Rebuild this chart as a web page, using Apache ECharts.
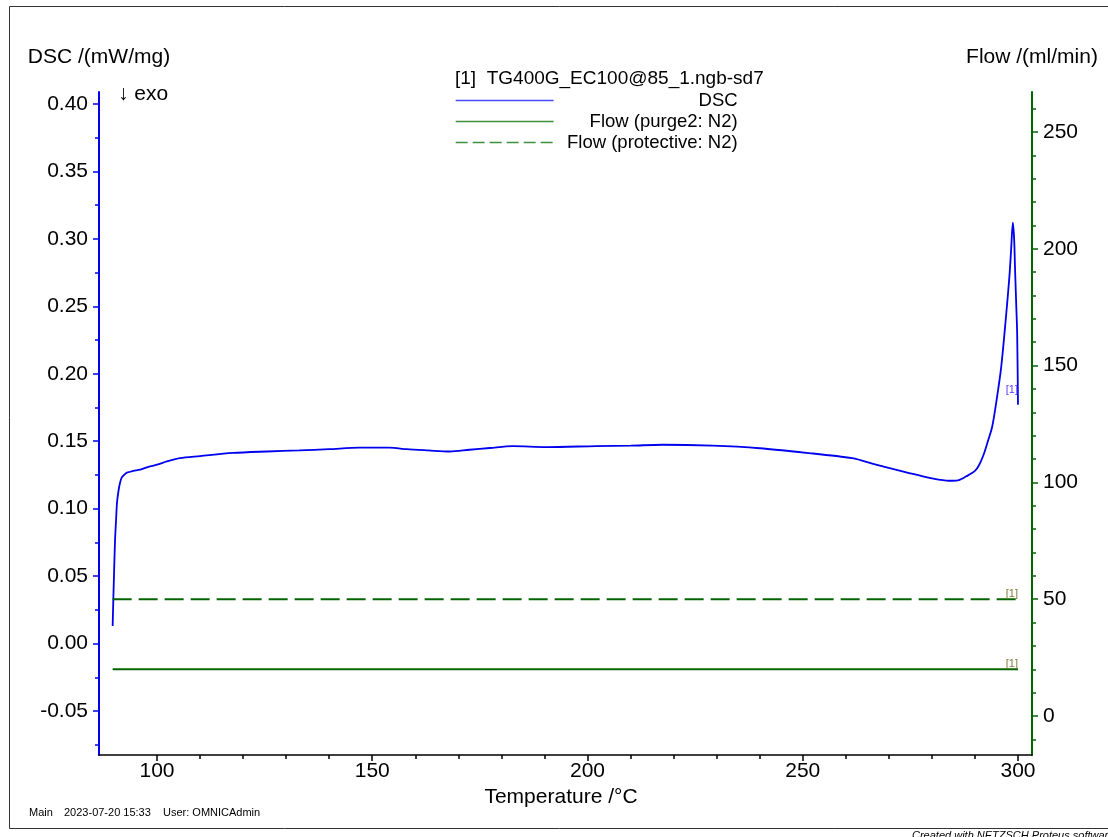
<!DOCTYPE html>
<html>
<head>
<meta charset="utf-8">
<style>
  html, body { margin: 0; padding: 0; background: #ffffff; }
  #chart { width: 1108px; height: 837px; }
</style>
<script src="https://cdn.jsdelivr.net/npm/echarts@6/dist/echarts.min.js"></script>
</head>
<body>
<div id="chart"></div>
<script>
// ---------- data ----------
const dscTemp = [89.7, 89.86, 90.05, 90.26, 90.5, 90.7, 91.0, 91.4, 91.8, 92.5, 93.0, 94.5, 96.1, 98, 100, 102.3, 105.3, 110,
  117.6, 125.5, 133, 140, 147, 154, 158, 163, 168, 172.6, 177.3, 182.6, 190.5, 202, 210, 217.4, 229, 240,
  251.5, 261.5, 264, 267, 274.7, 280, 284, 286, 288, 290, 291, 292, 293, 294, 295, 296.1, 297.2, 298, 298.4, 298.8,
  299.1, 299.3, 299.6, 299.8, 300.0];
const dscValue = [0.013, 0.033, 0.055, 0.077, 0.092, 0.104, 0.112, 0.119, 0.123, 0.1255, 0.1267, 0.128, 0.129, 0.131, 0.1326, 0.135, 0.1375, 0.139,
  0.1413, 0.1424, 0.1432, 0.1441, 0.1452, 0.1452, 0.1441, 0.1432, 0.1424, 0.1437, 0.145, 0.1464, 0.1457, 0.1464, 0.1467, 0.1474, 0.1467, 0.1448,
  0.1412, 0.1375, 0.1355, 0.1326, 0.1264, 0.1225, 0.1207, 0.121, 0.124, 0.128, 0.1326, 0.140, 0.150, 0.1607, 0.180, 0.2052, 0.242, 0.272, 0.292, 0.312,
  0.300, 0.279, 0.250, 0.2304, 0.177];
const flowTemp = [89.7, 300.0];
const flowPurge = [20, 20];
const flowProtective = [50, 50];

const tempTicks = [100, 150, 200, 250, 300];
const tempMinorTicks = [110, 120, 130, 140, 160, 170, 180, 190, 210, 220, 230, 240, 260, 270, 280, 290];
const dscTicks = [-0.05, 0.00, 0.05, 0.10, 0.15, 0.20, 0.25, 0.30, 0.35, 0.40];
const dscMinorTicks = [-0.075, -0.025, 0.025, 0.075, 0.125, 0.175, 0.225, 0.275, 0.325, 0.375];
const flowTicks = [0, 50, 100, 150, 200, 250];
const flowMinorTicks = [-10, 10, 20, 30, 40, 60, 70, 80, 90, 110, 120, 130, 140, 160, 170, 180, 190, 210, 220, 230, 240, 260];

const seriesNames = ['DSC', 'Flow (purge2: N2)', 'Flow (protective: N2)'];
const fileTitle = '[1]  TG400G_EC100@85_1.ngb-sd7';

// ---------- build ----------
const zip = (xs, ys) => xs.map((x, i) => [x, ys[i]]);
const dscData = zip(dscTemp, dscValue);
const purgeData = zip(flowTemp, flowPurge);
const protData = zip(flowTemp, flowProtective);

const FONT = '"Liberation Sans", Arial, sans-serif';
const BLUE = '#0000ee';
const GREEN = '#006400';

const xRange = { min: 86.53, max: 303.25 };
const dscRange = { min: -0.0826, max: 0.4089 };
const flowRange = { min: -16.7, max: 267.1 };

function endMark(data, color, dy) {
  return {
    symbol: 'circle', symbolSize: 0, silent: true, animation: false,
    data: [{ coord: data[data.length - 1] }],
    label: {
      show: true, formatter: '[1]', position: 'left', distance: 0,
      offset: [0, dy], color: color, fontSize: 11, fontFamily: FONT
    }
  };
}

const chart = echarts.init(document.getElementById('chart'), null, { renderer: 'canvas' });
chart.setOption({
  animation: false,
  backgroundColor: '#ffffff',
  title: {
    text: fileTitle, left: 455, top: 69, padding: 0,
    textStyle: { fontFamily: FONT, fontSize: 19, fontWeight: 'normal', color: '#000' }
  },
  legend: {
    orient: 'vertical', left: 455, top: 91, padding: 0,
    itemWidth: 98, itemHeight: 14, itemGap: 2,
    itemStyle: { opacity: 0 },
    formatter: n => '{a|' + n + '}',
    textStyle: {
      fontFamily: FONT, fontSize: 18.5, color: '#000',
      rich: { a: { width: 179, align: 'right', fontSize: 18.5, lineHeight: 18, fontFamily: FONT, color: '#000' } }
    },
    data: [
      { name: seriesNames[0], itemStyle: { opacity: 0 }, lineStyle: { color: '#4a4aff', width: 1.3 } },
      { name: seriesNames[1], itemStyle: { opacity: 0 }, lineStyle: { color: '#3f8f3f', width: 1.3 } },
      { name: seriesNames[2], itemStyle: { opacity: 0 }, lineStyle: { color: '#3f8f3f', width: 1.3, type: [12, 5] } }
    ]
  },
  grid: { left: 99, right: 76, top: 92, bottom: 82, containLabel: false },
  xAxis: [
    {
      type: 'value', position: 'bottom', min: xRange.min, max: xRange.max,
      name: 'Temperature /°C', nameLocation: 'middle', nameGap: 30,
      nameTextStyle: { fontFamily: FONT, fontSize: 21, color: '#000', padding: [0, 9, 0, 0] },
      axisLine: { show: true, onZero: false, lineStyle: { color: '#000', width: 1.5 } },
      axisTick: { show: true, inside: false, length: 6, customValues: tempTicks, lineStyle: { color: '#000', width: 1.5 } },
      axisLabel: { show: true, customValues: tempTicks, margin: 6, fontFamily: FONT, fontSize: 21, color: '#000' },
      splitLine: { show: false }
    },
    {
      type: 'value', position: 'bottom', min: xRange.min, max: xRange.max,
      axisLine: { show: false, onZero: false },
      axisTick: { show: true, inside: false, length: 4, customValues: tempMinorTicks, lineStyle: { color: '#000', width: 1.5 } },
      axisLabel: { show: false },
      splitLine: { show: false }
    }
  ],
  yAxis: [
    {
      type: 'value', position: 'left', min: dscRange.min, max: dscRange.max,
      name: 'DSC /(mW/mg)', nameLocation: 'end', nameGap: 24,
      nameTextStyle: { fontFamily: FONT, fontSize: 21, color: '#000', align: 'center' },
      axisLine: { show: true, onZero: false, lineStyle: { color: BLUE, width: 2 } },
      axisTick: { show: true, inside: false, length: 6, customValues: dscTicks, lineStyle: { color: BLUE, width: 1.5 } },
      axisLabel: { show: true, customValues: dscTicks, margin: 11, fontFamily: FONT, fontSize: 21, color: '#000', formatter: v => v.toFixed(2) },
      splitLine: { show: false }
    },
    {
      type: 'value', position: 'left', min: dscRange.min, max: dscRange.max,
      axisLine: { show: false, onZero: false },
      axisTick: { show: true, inside: false, length: 4, customValues: dscMinorTicks, lineStyle: { color: BLUE, width: 1.5 } },
      axisLabel: { show: false },
      splitLine: { show: false }
    },
    {
      type: 'value', position: 'right', min: flowRange.min, max: flowRange.max,
      name: 'Flow /(ml/min)', nameLocation: 'end', nameGap: 24,
      nameTextStyle: { fontFamily: FONT, fontSize: 21, color: '#000', align: 'center' },
      axisLine: { show: true, onZero: false, lineStyle: { color: GREEN, width: 2 } },
      axisTick: { show: true, inside: false, length: 6, customValues: flowTicks, lineStyle: { color: GREEN, width: 1.5 } },
      axisLabel: { show: true, customValues: flowTicks, margin: 11, fontFamily: FONT, fontSize: 21, color: '#000' },
      splitLine: { show: false }
    },
    {
      type: 'value', position: 'right', min: flowRange.min, max: flowRange.max,
      axisLine: { show: false, onZero: false },
      axisTick: { show: true, inside: false, length: 4, customValues: flowMinorTicks, lineStyle: { color: GREEN, width: 1.5 } },
      axisLabel: { show: false },
      splitLine: { show: false }
    }
  ],
  series: [
    {
      name: seriesNames[0], type: 'line', xAxisIndex: 0, yAxisIndex: 0,
      data: dscData, showSymbol: false, symbol: 'none', smooth: 0.3,
      lineStyle: { color: BLUE, width: 1.8 }, itemStyle: { color: BLUE },
      markPoint: endMark(dscData, '#5a3cff', -15)
    },
    {
      name: seriesNames[1], type: 'line', xAxisIndex: 0, yAxisIndex: 2,
      data: purgeData, showSymbol: false, symbol: 'none',
      lineStyle: { color: GREEN, width: 2 }, itemStyle: { color: GREEN },
      markPoint: endMark(purgeData, '#7f7a3a', -5)
    },
    {
      name: seriesNames[2], type: 'line', xAxisIndex: 0, yAxisIndex: 2,
      data: protData, showSymbol: false, symbol: 'none',
      lineStyle: { color: GREEN, width: 2, type: [19, 7] }, itemStyle: { color: GREEN },
      markPoint: endMark(protData, '#7f7a3a', -5)
    }
  ],
  graphic: [
    { type: 'rect', silent: true, shape: { x: 9.5, y: 6.5, width: 1120, height: 822 },
      style: { fill: 'none', stroke: '#333', lineWidth: 1 } },
    { type: 'text', silent: true, left: 118, top: 84,
      style: { text: '↓ exo', fontFamily: FONT, fontSize: 21, fill: '#000' } },
    { type: 'text', silent: true, left: 29, top: 807,
      style: { text: 'Main', fontFamily: FONT, fontSize: 11, fill: '#000' } },
    { type: 'text', silent: true, left: 64, top: 807,
      style: { text: '2023-07-20 15:33', fontFamily: FONT, fontSize: 11, fill: '#000' } },
    { type: 'text', silent: true, left: 163, top: 807,
      style: { text: 'User: OMNICAdmin', fontFamily: FONT, fontSize: 11, fill: '#000' } },
    { type: 'text', silent: true, left: 912, top: 830,
      style: { text: 'Created with NETZSCH Proteus software', fontFamily: FONT, fontSize: 11, fontStyle: 'italic', fill: '#000' } }
  ]
});
</script>
</body>
</html>
